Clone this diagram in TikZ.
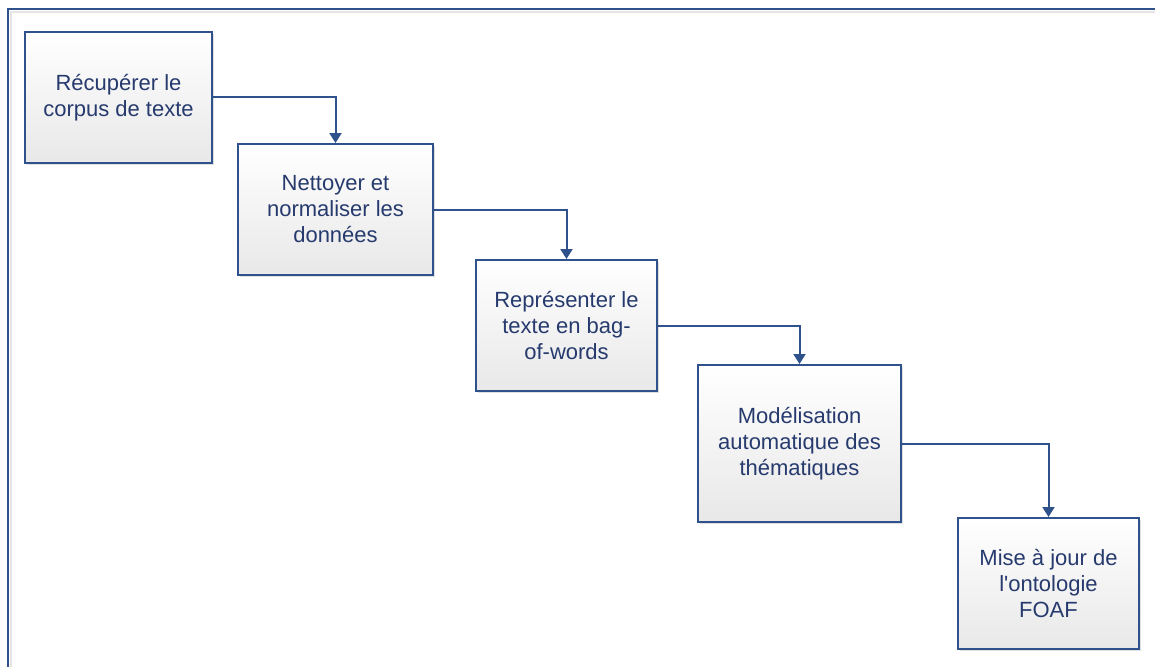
\documentclass[tikz,border=0pt]{standalone}
\usepackage{fontspec}
\setmainfont{Liberation Sans}[Ligatures=TeXOff]
\usetikzlibrary{arrows.meta,shadows}
\definecolor{frameblue}{RGB}{48,82,140}
\definecolor{txtblue}{RGB}{38,58,110}
\definecolor{boxbottom}{RGB}{232,232,232}
\tikzset{
  stepbox/.style={draw=frameblue, line width=2pt, top color=white, bottom color=boxbottom,
    align=center, text=txtblue, inner sep=0pt,
    font=\fontsize{22}{26}\selectfont,
    drop shadow={shadow xshift=2pt, shadow yshift=-2pt, opacity=0.25, fill=gray}},
  link/.style={draw=frameblue, line width=2pt, -{Triangle[length=10pt,width=12pt]}},
}
\begin{document}
\begin{tikzpicture}[x=1pt,y=-1pt]
\clip (0,0) rectangle (1155,666);
\useasboundingbox (0,0) rectangle (1155,666);
\fill[white] (0,0) rectangle (1155,666);
\draw[gray!20, line width=2pt] (11,12) rectangle (1175,690);
\draw[frameblue, line width=2pt] (8,9) rectangle (1175,690);

\node[stepbox, minimum width=187pt, minimum height=131pt] (b1) at (118.5,97.5) {Récupérer le\\corpus de texte};
\node[stepbox, minimum width=195pt, minimum height=131pt] (b2) at (335.5,209.5) {Nettoyer et\\normaliser les\\données};
\node[stepbox, minimum width=181pt, minimum height=131pt] (b3) at (566.5,325.5) {Représenter le\\texte en bag-\\of-words};
\node[stepbox, minimum width=203pt, minimum height=157pt] (b4) at (799.5,443.5) {Modélisation\\automatique des\\thématiques};
\node[stepbox, minimum width=181pt, minimum height=131pt] (b5) at (1048.5,583.5) {Mise à jour de\\l'ontologie\\FOAF};

\draw[link] (b1.east) -| (b2.north);
\draw[link] (b2.east) -| (b3.north);
\draw[link] (b3.east) -| (b4.north);
\draw[link] (b4.east) -| (b5.north);
\end{tikzpicture}
\end{document}
